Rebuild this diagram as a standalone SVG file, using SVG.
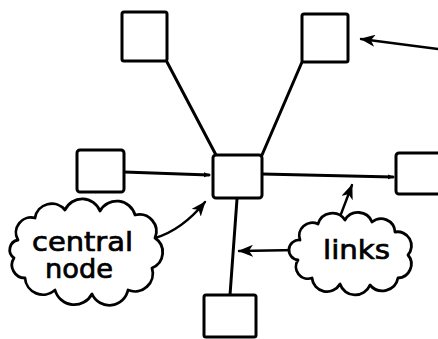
<svg xmlns="http://www.w3.org/2000/svg" width="438" height="339" viewBox="0 0 438 339">
  <style>
    .box { fill: #fff; stroke: #000; stroke-width: 3; stroke-linejoin: round; }
    .link { fill: none; stroke: #000; stroke-width: 3; stroke-linecap: round; }
    .thin { fill: none; stroke: #000; stroke-width: 2.4; stroke-linecap: round; }
    .cloud { fill: #fff; stroke: #000; stroke-width: 2.8; stroke-linejoin: round; }
    .hand { font-family: "DejaVu Sans", "Liberation Sans", sans-serif; font-size: 26px; fill: #000; stroke: #000; stroke-width: 0.7; }
  </style>
  <defs>
    <marker id="head" viewBox="0 0 15 12" refX="14" refY="6" markerWidth="15" markerHeight="12" markerUnits="userSpaceOnUse" orient="auto">
      <path d="M0,0 L15,6 L0,12 L4,6 z" fill="#000"/>
    </marker>
    <marker id="tip" viewBox="0 0 6 6" refX="5" refY="3" markerWidth="6" markerHeight="6" markerUnits="userSpaceOnUse" orient="auto">
      <path d="M0,0.5 L6,3 L0,5.5 z" fill="#000"/>
    </marker>
  </defs>

  <!-- links between the central node and its neighbours -->
  <g id="connectors">
    <path class="link" d="M167,62 L216,155"/>
    <path class="link" d="M302,62 L262,155"/>
    <path class="link" d="M124,172 L209,175" marker-end="url(#tip)"/>
    <path class="link" d="M262,174 L393,177" marker-end="url(#tip)"/>
    <path class="link" d="M237,199 L230,295"/>
    <!-- annotation pointers -->
    <path class="thin" d="M438,49 Q400,44 361,39" marker-end="url(#head)"/>
    <path class="thin" d="M155,238 Q182,230 205,202" marker-end="url(#head)"/>
    <path class="thin" d="M298,250 L239,251" marker-end="url(#head)"/>
    <path class="thin" d="M338,222 L352,185" marker-end="url(#head)"/>
  </g>

  <g id="node-top-left"><rect class="box" x="122" y="12" width="45" height="49" rx="2"/></g>
  <g id="node-top-right"><rect class="box" x="302" y="14" width="46" height="48" rx="2"/></g>
  <g id="node-left"><rect class="box" x="77" y="150" width="47" height="42" rx="3"/></g>
  <g id="node-central"><rect class="box" x="213" y="155" width="49" height="43" rx="3"/></g>
  <g id="node-right"><rect class="box" x="396" y="153" width="46" height="41" rx="3"/></g>
  <g id="node-bottom"><rect class="box" x="204" y="295" width="52" height="42" rx="2"/></g>

  <g id="label-central">
    <path class="cloud" d="M18,240 A15,15 0 0 1 35,218 A17,17 0 0 1 65,210 A19,19 0 0 1 100,211 A19,19 0 0 1 135,215 A17,17 0 0 1 155,238 A17,17 0 0 1 152,268 A18,18 0 0 1 128,290 A19,19 0 0 1 92,294 A20,20 0 0 1 55,290 A18,18 0 0 1 25,278 A13,13 0 0 1 14,258 A10,10 0 0 1 18,240 z"/>
    <text class="hand" x="32" y="251" textLength="101" lengthAdjust="spacingAndGlyphs">central</text>
    <text class="hand" x="45" y="278" textLength="68" lengthAdjust="spacingAndGlyphs">node</text>
  </g>

  <g id="label-links">
    <path class="cloud" d="M300,240 A13,13 0 0 1 318,224 A15,15 0 0 1 345,220 A15,15 0 0 1 372,222 A14,14 0 0 1 395,232 A14,14 0 0 1 408,255 A14,14 0 0 1 398,278 A16,16 0 0 1 370,285 A16,16 0 0 1 340,284 A15,15 0 0 1 312,278 A12,12 0 0 1 298,260 A10,10 0 0 1 300,240 z"/>
    <text class="hand" x="323" y="259" textLength="67" lengthAdjust="spacingAndGlyphs">links</text>
  </g>
</svg>
